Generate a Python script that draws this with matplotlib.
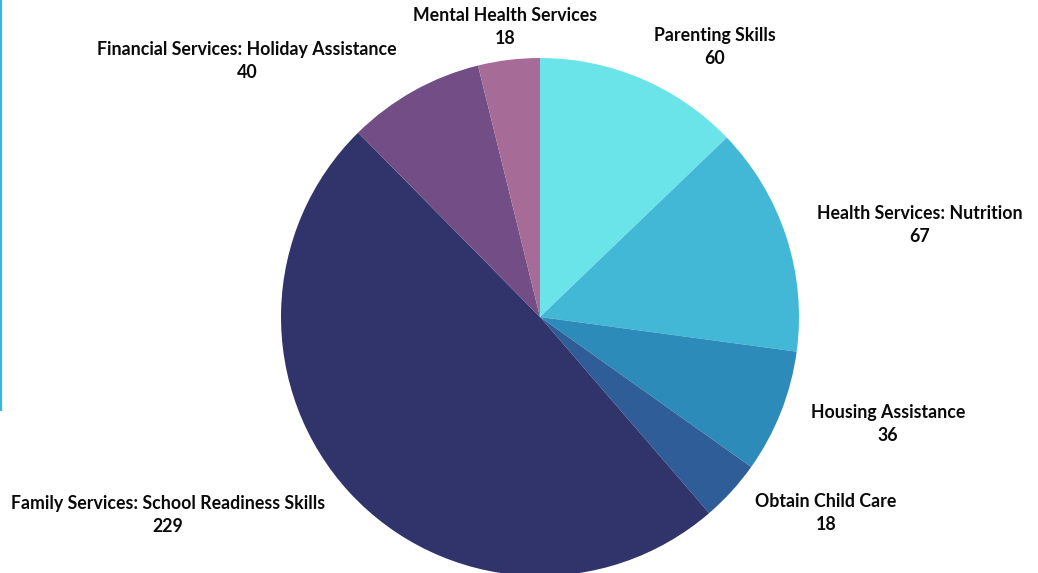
import matplotlib
matplotlib.use("Agg")
import matplotlib.pyplot as plt

categories = [
    "Parenting Skills",
    "Health Services: Nutrition",
    "Housing Assistance",
    "Obtain Child Care",
    "Family Services: School Readiness Skills",
    "Financial Services: Holiday Assistance",
    "Mental Health Services",
]
counts = [60, 67, 36, 18, 229, 40, 18]
colors = ["#6BE4E9", "#42B7D6", "#2D8BBA", "#2F5D98", "#31346B", "#724D86", "#A66C97"]

# label anchor points (pixel space, y measured from the top)
label_pos = {
    "Parenting Skills": (715, 47),
    "Health Services: Nutrition": (920, 225),
    "Housing Assistance": (888, 424),
    "Obtain Child Care": (826, 513),
    "Family Services: School Readiness Skills": (168, 515),
    "Financial Services: Holiday Assistance": (247, 61),
    "Mental Health Services": (505, 27),
}

W, H = 1038, 573
fig = plt.figure(figsize=(W / 100, H / 100), dpi=100)
fig.patch.set_facecolor("white")
ax = fig.add_axes([0, 0, 1, 1])

ax.pie(counts, colors=colors, startangle=90, counterclock=False,
       center=(540, H - 317), radius=259,
       wedgeprops=dict(linewidth=0), frame=True)
ax.set_xlim(0, W)
ax.set_ylim(0, H)
ax.set_aspect("equal")
ax.axis("off")

for name, value in zip(categories, counts):
    x, y = label_pos[name]
    ax.text(x, H - y, f"{name}\n{value}", ha="center", va="center",
            fontsize=12.8, fontweight="bold", family="Lato",
            color="#0a0a0a", linespacing=1.38)

# thin accent rule along the left edge
ax.plot([0.8, 0.8], [H, H - 411], color="#3AB6D8", linewidth=1.6,
        solid_capstyle="butt")

fig.savefig("out.png", dpi=100, facecolor="white")
